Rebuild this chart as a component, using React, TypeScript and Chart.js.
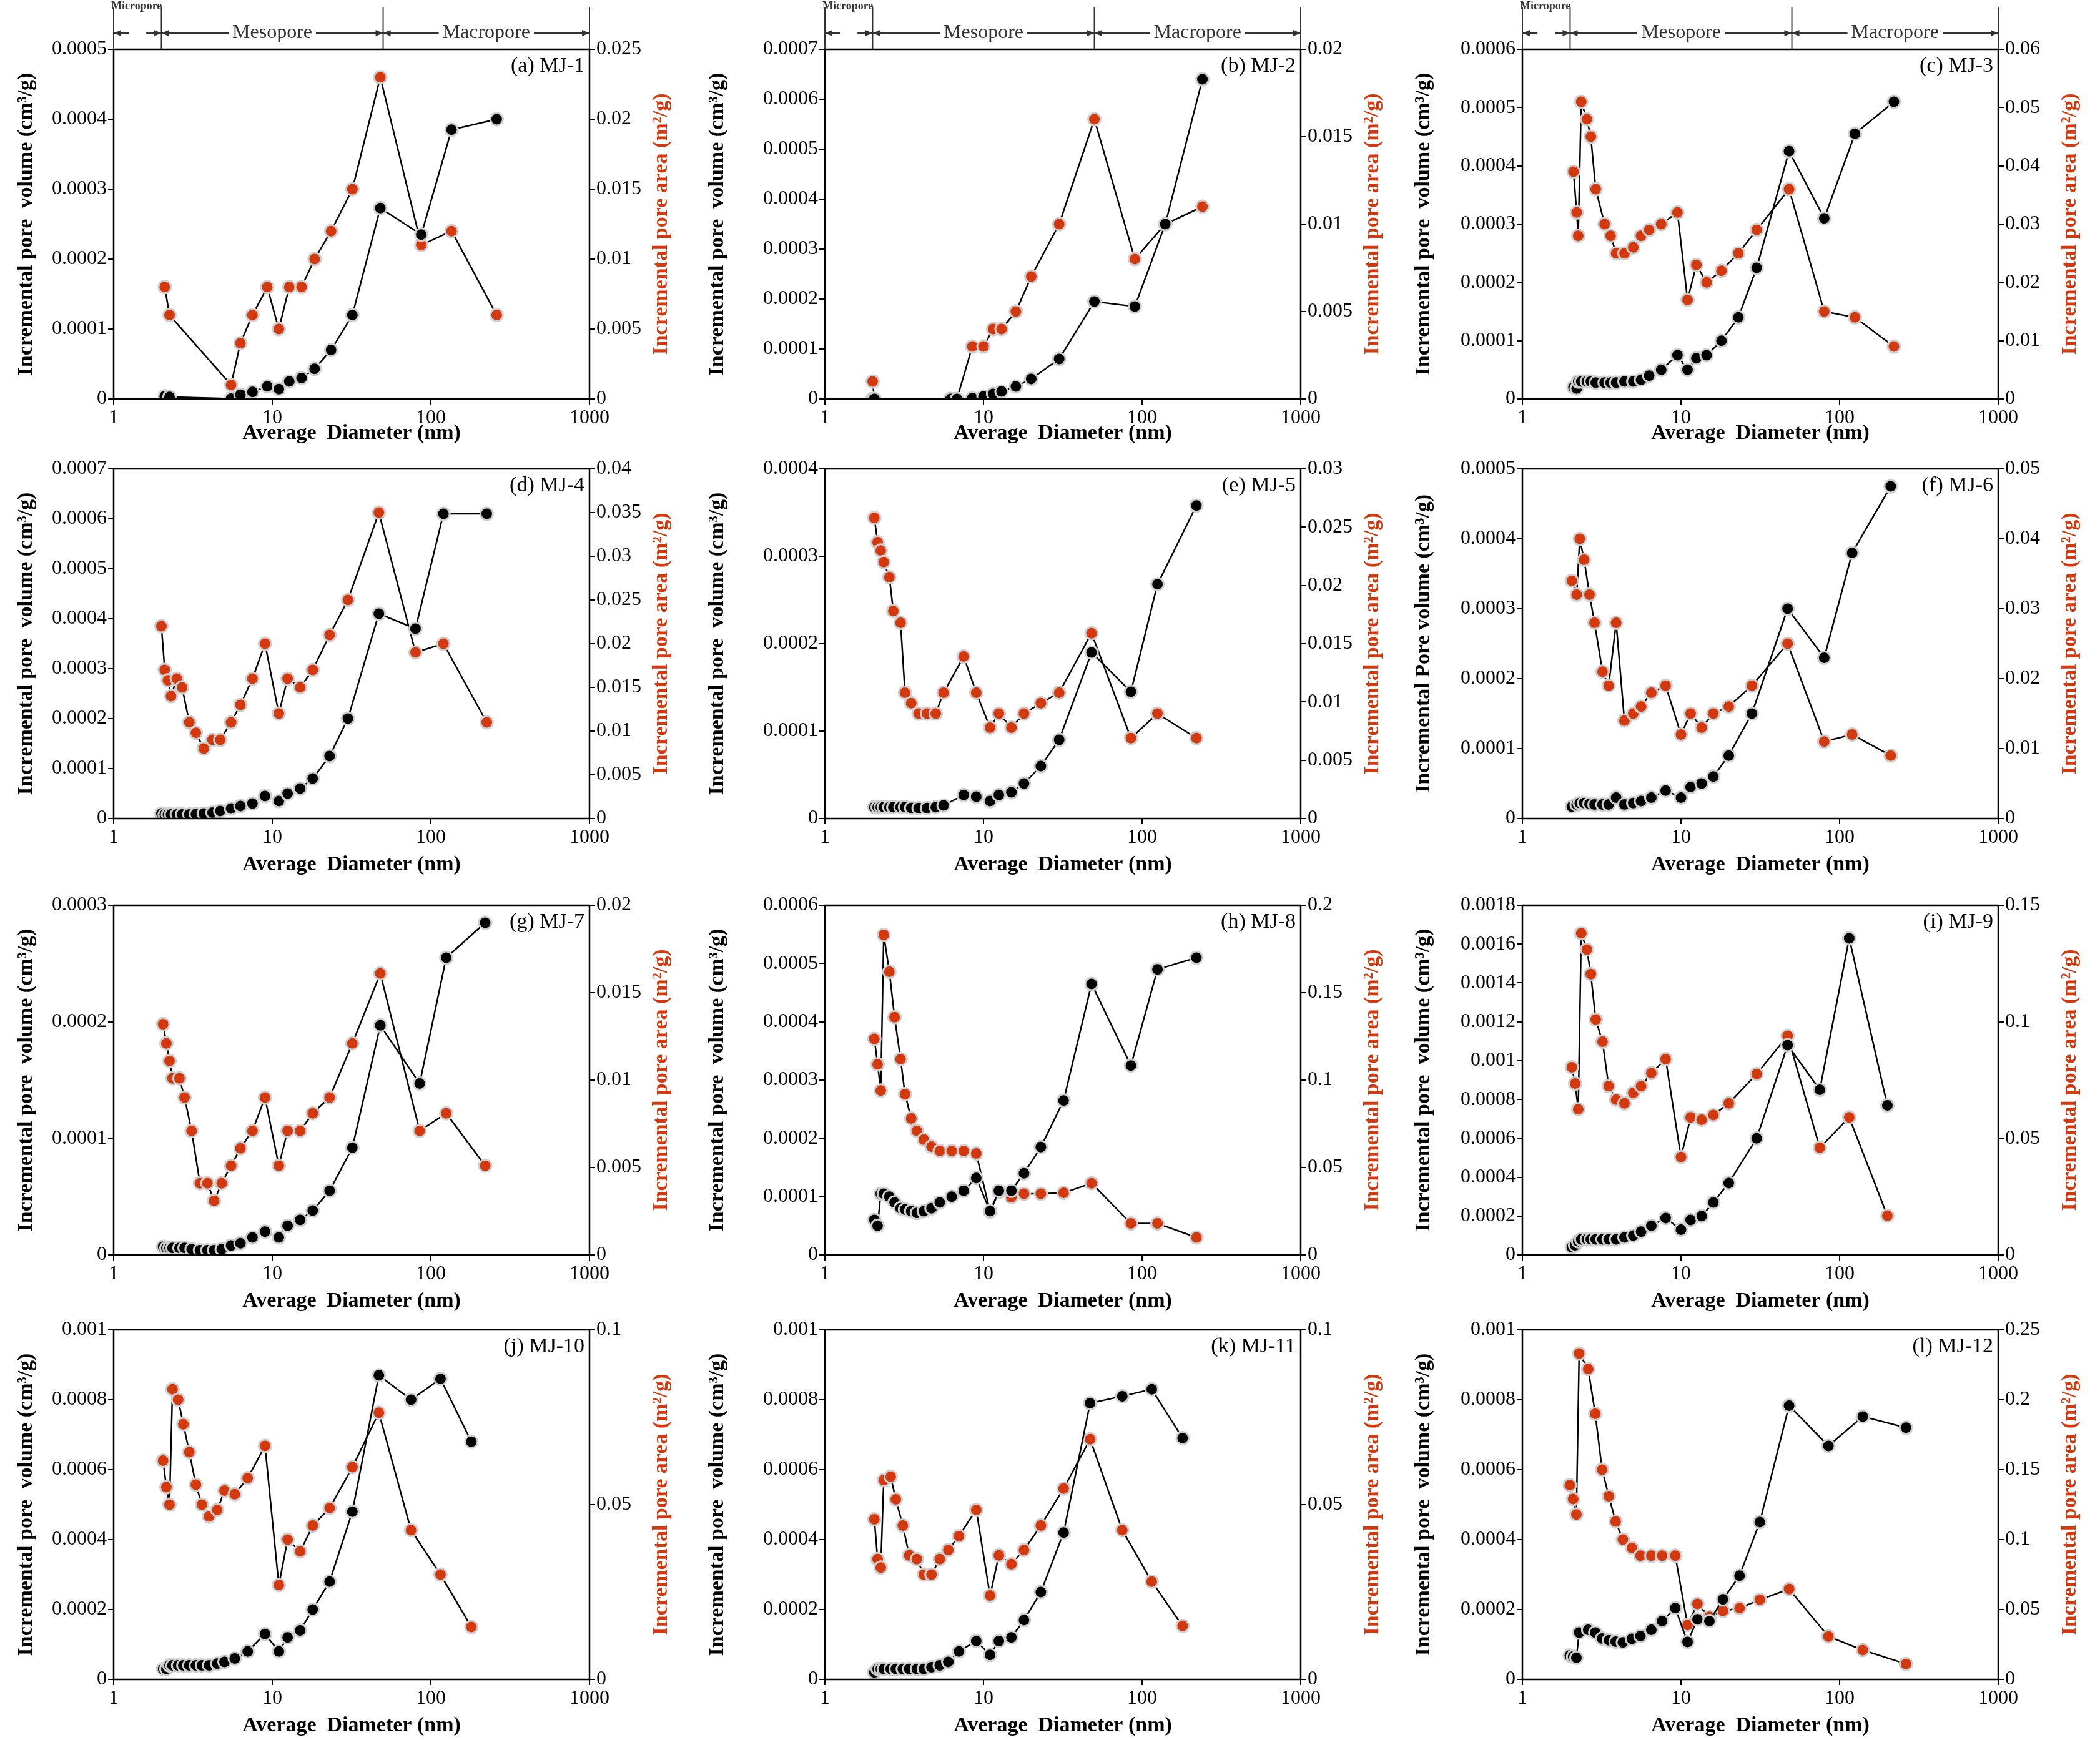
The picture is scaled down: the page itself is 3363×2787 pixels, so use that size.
import React, { useEffect, useRef } from "react";
import { Chart, registerables } from "chart.js";
Chart.register(...registerables);

const namesP = ["(a) MJ-1","(b) MJ-2","(c) MJ-3","(d) MJ-4","(e) MJ-5","(f) MJ-6","(g) MJ-7","(h) MJ-8","(i) MJ-9","(j) MJ-10","(k) MJ-11","(l) MJ-12"];

const xA=[2.1,2.25,5.5,6.3,7.5,9.3,11,12.8,15.3,18.5,23.5,32,48,87,135,260];
const volA=[0.000004,0.000003,0.0000005,0.000006,0.00001,0.000018,0.000014,0.000025,0.00003,0.000043,0.00007,0.00012,0.000273,0.000235,0.000385,0.0004];
const areaA=[0.008,0.006,0.001,0.004,0.006,0.008,0.005,0.008,0.008,0.010,0.012,0.015,0.023,0.011,0.012,0.006];

const xB=[2.0,2.05,6.2,6.8,8.5,10,11.5,13,16,20,30,50,90,140,240];
const volB=[0,0,0,0,0.000002,0.000005,0.00001,0.000015,0.000025,0.00004,0.00008,0.000195,0.000185,0.00035,0.00064];
const areaB=[0.001,0,0,0,0.003,0.003,0.004,0.004,0.005,0.007,0.010,0.016,0.008,0.010,0.011];

const xC=[2.1,2.2,2.25,2.35,2.55,2.7,2.9,3.3,3.6,3.9,4.4,5,5.6,6.3,7.5,9.5,11,12.5,14.5,18,23,30,48,80,125,220];
const volC=[0.00002,0.000018,0.00003,0.00003,0.00003,0.00003,0.000028,0.000028,0.000028,0.000028,0.00003,0.00003,0.000033,0.00004,0.00005,0.000075,0.00005,0.00007,0.000075,0.0001,0.00014,0.000225,0.000425,0.00031,0.000455,0.00051];
const areaC=[0.039,0.032,0.028,0.051,0.048,0.045,0.036,0.030,0.028,0.025,0.025,0.026,0.028,0.029,0.030,0.032,0.017,0.023,0.020,0.022,0.025,0.029,0.036,0.015,0.014,0.009];

const xD=[2.0,2.1,2.2,2.3,2.5,2.7,3.0,3.3,3.7,4.2,4.7,5.5,6.3,7.5,9,11,12.5,15,18,23,30,47,80,120,225];
const volD=[0.00001,0.000008,0.000008,0.000008,0.000008,0.000008,0.000008,0.000009,0.00001,0.000012,0.000015,0.00002,0.000025,0.00003,0.000045,0.000035,0.00005,0.00006,0.00008,0.000125,0.0002,0.00041,0.00038,0.00061,0.00061];
const areaD=[0.022,0.017,0.0158,0.014,0.016,0.015,0.011,0.0098,0.008,0.009,0.009,0.011,0.013,0.016,0.020,0.012,0.016,0.015,0.017,0.021,0.025,0.035,0.019,0.020,0.011];

const xE=[2.05,2.15,2.25,2.35,2.55,2.7,3.0,3.2,3.5,3.9,4.4,5,5.6,7.5,9,11,12.5,15,18,23,30,48,85,125,220];
const volE=[0.000013,0.000013,0.000013,0.000013,0.000013,0.000013,0.000013,0.000013,0.000012,0.000012,0.000012,0.000013,0.000015,0.000027,0.000025,0.00002,0.000027,0.00003,0.00004,0.00006,0.00009,0.00019,0.000145,0.000268,0.000358];
const areaE=[0.0258,0.0237,0.023,0.022,0.0207,0.0178,0.0168,0.0108,0.0099,0.009,0.009,0.009,0.0108,0.0139,0.0108,0.0078,0.009,0.0078,0.009,0.0099,0.0108,0.0159,0.0069,0.009,0.0069];

const xF=[2.05,2.2,2.3,2.45,2.65,2.85,3.2,3.5,3.9,4.4,5,5.6,6.5,8,10,11.5,13.5,16,20,28,47,80,120,210];
const volF=[0.000017,0.00002,0.000022,0.000022,0.000021,0.00002,0.00002,0.00002,0.00003,0.00002,0.000022,0.000025,0.00003,0.00004,0.00003,0.000045,0.00005,0.00006,0.00009,0.00015,0.0003,0.00023,0.00038,0.000475];
const areaF=[0.034,0.032,0.04,0.037,0.032,0.028,0.021,0.019,0.028,0.014,0.015,0.016,0.018,0.019,0.012,0.015,0.013,0.015,0.016,0.019,0.025,0.011,0.012,0.009];

const xG=[2.05,2.15,2.25,2.35,2.6,2.8,3.1,3.5,3.9,4.3,4.8,5.5,6.3,7.5,9,11,12.5,15,18,23,32,48,85,125,220];
const volG=[0.000007,0.000006,0.000006,0.000006,0.000006,0.000006,0.000005,0.000004,0.000004,0.000004,0.000005,0.000008,0.00001,0.000015,0.00002,0.000015,0.000025,0.00003,0.000038,0.000055,0.000092,0.000197,0.000147,0.000255,0.000285];
const areaG=[0.0132,0.0121,0.0111,0.0101,0.0101,0.009,0.0071,0.0041,0.0041,0.0031,0.0041,0.0051,0.0061,0.0071,0.009,0.0051,0.0071,0.0071,0.0081,0.009,0.0121,0.0161,0.0071,0.0081,0.0051];

const xH=[2.05,2.15,2.25,2.35,2.55,2.75,3.0,3.2,3.5,3.8,4.2,4.7,5.3,6.3,7.5,9,11,12.5,15,18,23,32,48,85,125,220];
const volH=[0.00006,0.00005,0.000105,0.000105,0.0001,0.00009,0.00008,0.000078,0.000075,0.000072,0.000075,0.00008,0.00009,0.0001,0.00011,0.000132,0.000075,0.00011,0.00011,0.00014,0.000185,0.000265,0.000465,0.000325,0.00049,0.00051];
const areaH=[0.1236,0.109,0.094,0.183,0.162,0.136,0.112,0.092,0.078,0.071,0.066,0.062,0.0595,0.0595,0.0595,0.058,0.0247,0.036,0.033,0.035,0.035,0.0355,0.041,0.018,0.018,0.01];

const xI=[2.05,2.15,2.25,2.35,2.55,2.7,2.9,3.2,3.5,3.9,4.4,5,5.6,6.5,8,10,11.5,13.5,16,20,30,47,75,115,200];
const volI=[0.00004,0.00005,0.00007,0.00008,0.00008,0.00008,0.00008,0.00008,0.00008,0.00008,0.00009,0.0001,0.00012,0.00015,0.00019,0.00013,0.00018,0.0002,0.00027,0.00037,0.0006,0.00108,0.00085,0.00163,0.00077];
const areaI=[0.0805,0.0735,0.0625,0.138,0.131,0.1205,0.101,0.0915,0.0724,0.0666,0.065,0.0695,0.0724,0.078,0.084,0.042,0.059,0.058,0.06,0.065,0.0776,0.094,0.046,0.059,0.0168];

const xJ=[2.05,2.15,2.25,2.35,2.55,2.75,3.0,3.3,3.6,4,4.5,5,5.8,7,9,11,12.5,15,18,23,32,47,75,115,180];
const volJ=[0.00003,0.00003,0.00004,0.00004,0.00004,0.00004,0.00004,0.00004,0.00004,0.00004,0.000045,0.00005,0.00006,0.00008,0.00013,0.00008,0.00012,0.00014,0.0002,0.00028,0.00048,0.00087,0.0008,0.00086,0.00068];
const areaJ=[0.0626,0.055,0.05,0.083,0.08,0.073,0.065,0.0557,0.05,0.0466,0.0485,0.054,0.053,0.0576,0.0668,0.027,0.04,0.0366,0.044,0.049,0.0607,0.0763,0.0427,0.03,0.015];

const xK=[2.05,2.15,2.25,2.35,2.6,2.8,3.1,3.4,3.8,4.2,4.7,5.3,6,7,9,11,12.5,15,18,23,32,47,75,115,180];
const volK=[0.00002,0.00003,0.00003,0.00003,0.00003,0.00003,0.00003,0.00003,0.00003,0.00003,0.000035,0.00004,0.00005,0.00008,0.00011,0.00007,0.00011,0.00012,0.00017,0.00025,0.00042,0.00079,0.00081,0.00083,0.00069];
const areaK=[0.0458,0.0344,0.032,0.057,0.058,0.0515,0.044,0.0355,0.0344,0.03,0.03,0.0344,0.037,0.041,0.0485,0.024,0.0355,0.033,0.037,0.044,0.0546,0.0687,0.0427,0.028,0.0153];

const xL=[1.99,2.09,2.19,2.28,2.6,2.88,3.18,3.51,3.87,4.3,4.9,5.55,6.5,7.6,9.2,11,12.7,15.1,18.4,23.4,31.4,48,85,140,262];
const volL=[0.0000685,0.000065,0.000062,0.000134,0.000142,0.000134,0.000117,0.000112,0.000108,0.000106,0.000116,0.000124,0.000142,0.000167,0.000204,0.000107,0.000172,0.000167,0.000229,0.000297,0.00045,0.000783,0.000668,0.000752,0.00072];
const areaL=[0.139,0.129,0.118,0.233,0.222,0.19,0.15,0.131,0.113,0.1,0.094,0.0885,0.0885,0.0885,0.0885,0.039,0.054,0.0448,0.049,0.051,0.057,0.0646,0.0307,0.021,0.0111];

const leftMax=[0.0005,0.0007,0.0006,0.0007,0.0004,0.0005,0.0003,0.0006,0.0018,0.001,0.001,0.001];
const leftStep=[0.0001,0.0001,0.0001,0.0001,0.0001,0.0001,0.0001,0.0001,0.0002,0.0002,0.0002,0.0002];
const rightMax=[0.025,0.02,0.06,0.04,0.03,0.05,0.02,0.2,0.15,0.1,0.1,0.25];
const rightStep=[0.005,0.005,0.01,0.005,0.005,0.01,0.005,0.05,0.05,0.05,0.05,0.05];
const xTicks=[1,10,100,1000];

const XS=[xA,xB,xC,xD,xE,xF,xG,xH,xI,xJ,xK,xL];
const VS=[volA,volB,volC,volD,volE,volF,volG,volH,volI,volJ,volK,volL];
const AS=[areaA,areaB,areaC,areaD,areaE,areaF,areaG,areaH,areaI,areaJ,areaK,areaL];

const SERIF = "'Liberation Serif', 'DejaVu Serif', serif";
const RED = "#d2390e";
const CW = 1121, CH = 715, PH = 560, PW = 762;
const colLeft = [182, 200, 196];
const leftTitleX = [42, 28, 38];
const rowTop = [0, 691, 1390, 2070];
const rowPad = [79, 60, 60, 60];

function fmt(v: number) { return String(parseFloat(Number(v).toPrecision(6))); }

function Panel({ i }: { i: number }) {
  const ref = useRef<HTMLCanvasElement>(null);
  useEffect(() => {
    const row = Math.floor(i / 3), col = i % 3;
    const pad = rowPad[row];
    const L = colLeft[col];
    const xs = XS[i];
    const frame = {
      id: "frame",
      afterDraw(c: any) {
        const a = c.chartArea, ctx = c.ctx;
        ctx.save();
        ctx.strokeStyle = "#000"; ctx.lineWidth = 2.5;
        ctx.strokeRect(a.left, a.top, a.right - a.left, a.bottom - a.top);
        ctx.fillStyle = "#000";
        ctx.font = `34px ${SERIF}`;
        ctx.textAlign = "right"; ctx.textBaseline = "top";
        ctx.fillText(namesP[i], a.right - 8, a.top + 10);
        const cy = (a.top + a.bottom) / 2;
        ctx.font = `bold 34px ${SERIF}`;
        ctx.textAlign = "center"; ctx.textBaseline = "middle";
        ctx.save(); ctx.translate(leftTitleX[col], cy); ctx.rotate(-Math.PI / 2);
        ctx.fillStyle = "#000";
        ctx.fillText(i === 5 ? "Incremental Pore volume (cm³/g)" : "Incremental pore  volume (cm³/g)", 0, 0);
        ctx.restore();
        ctx.save(); ctx.translate(a.right + 115, cy); ctx.rotate(-Math.PI / 2);
        ctx.fillStyle = RED;
        ctx.fillText("Incremental pore area (m²/g)", 0, 0);
        ctx.restore();
        if (row === 0) {
          const sx = c.scales.x;
          const y0 = a.top, yT = a.top - 68, ya = a.top - 26;
          const bx = [1, 2, 50, 1000].map((v) => sx.getPixelForValue(v));
          ctx.lineWidth = 2;
          ctx.strokeStyle = "#333";
          bx.forEach((p) => { ctx.beginPath(); ctx.moveTo(p, y0); ctx.lineTo(p, yT); ctx.stroke(); });
          const arrow = (from: number, to: number) => {
            ctx.beginPath(); ctx.moveTo(from, ya); ctx.lineTo(to, ya); ctx.stroke();
            const d = to > from ? -1 : 1;
            ctx.beginPath(); ctx.moveTo(to, ya); ctx.lineTo(to + d * 12, ya - 5); ctx.lineTo(to + d * 12, ya + 5); ctx.closePath(); ctx.fill();
          };
          ctx.fillStyle = "#333";
          const seg = (l: number, r: number, label: string, fs: number) => {
            ctx.font = `${fs}px ${SERIF}`;
            const m = (l + r) / 2, w = ctx.measureText(label).width;
            ctx.textAlign = "center"; ctx.textBaseline = "middle";
            ctx.fillText(label, m, ya);
            arrow(m - w / 2 - 6, l); arrow(m + w / 2 + 6, r);
          };
          seg(bx[1], bx[2], "Mesopore", 32);
          seg(bx[2], bx[3], "Macropore", 32);
          const m0 = (bx[0] + bx[1]) / 2;
          arrow(m0 - 14, bx[0]); arrow(m0 + 14, bx[1]);
          ctx.font = `bold 18px ${SERIF}`; ctx.textAlign = "left"; ctx.textBaseline = "bottom";
          ctx.fillText("Micropore", bx[0] - 4, yT + 8);
        }
        ctx.restore();
      },
    };
    const tickFont = { family: SERIF, size: 32 };
    const titleFont = { family: SERIF, size: 34, weight: "bold" as const };
    const gridCfg = { drawOnChartArea: false, drawTicks: true, tickLength: 9, color: "#000", lineWidth: 2 };
    const chart = new Chart(ref.current!, {
      type: "line",
      data: {
        datasets: [
          {
            data: xs.map((x, k) => ({ x, y: VS[i][k] })), yAxisID: "y",
            borderColor: "#000", borderWidth: 2.5, backgroundColor: "#000",
            pointBackgroundColor: "#000", pointBorderColor: "#cfcfcf", pointBorderWidth: 3, pointRadius: 10,
          },
          {
            data: xs.map((x, k) => ({ x, y: AS[i][k] })), yAxisID: "y1",
            borderColor: "#000", borderWidth: 2.5, backgroundColor: RED,
            pointBackgroundColor: RED, pointBorderColor: "#cfcfcf", pointBorderWidth: 3, pointRadius: 10,
          },
        ],
      },
      options: {
        animation: false, responsive: false, events: [],
        layout: { padding: { top: pad, left: 0, right: 0, bottom: 0 } },
        plugins: { legend: { display: false }, tooltip: { enabled: false } },
        scales: {
          x: {
            type: "logarithmic", min: 1, max: 1000,
            afterBuildTicks: (s: any) => { s.ticks = xTicks.map((v) => ({ value: v })); },
            afterFit: (s: any) => { s.height = CH - pad - PH; },
            ticks: { font: tickFont, color: "#000", callback: (v: any) => fmt(v), maxRotation: 0, padding: 2 },
            grid: gridCfg, border: { display: false },
            title: { display: true, text: "Average  Diameter (nm)", font: titleFont, color: "#000", padding: 0 },
          },
          y: {
            min: 0, max: leftMax[i], position: "left",
            afterFit: (s: any) => { s.width = L; },
            ticks: { stepSize: leftStep[i], font: tickFont, color: "#000", callback: (v: any) => fmt(v), padding: 2 },
            grid: gridCfg, border: { display: false },
          },
          y1: {
            min: 0, max: rightMax[i], position: "right",
            afterFit: (s: any) => { s.width = CW - L - PW; },
            ticks: { stepSize: rightStep[i], font: tickFont, color: "#000", callback: (v: any) => fmt(v), padding: 2 },
            grid: gridCfg, border: { display: false },
          },
        },
      } as any,
      plugins: [frame],
    });
    return () => chart.destroy();
  }, [i]);
  const row = Math.floor(i / 3), col = i % 3;
  return (
    <canvas ref={ref} width={CW} height={CH}
      style={{ position: "absolute", left: col * CW, top: rowTop[row], width: CW, height: CH }} />
  );
}

export default function App() {
  useEffect(() => { document.body.style.margin = "0"; document.body.style.background = "#fff"; }, []);
  return (
    <div style={{ position: "relative", width: 3363, height: 2787, background: "#fff", overflow: "hidden" }}>
      {namesP.map((_, i) => <Panel key={i} i={i} />)}
    </div>
  );
}
